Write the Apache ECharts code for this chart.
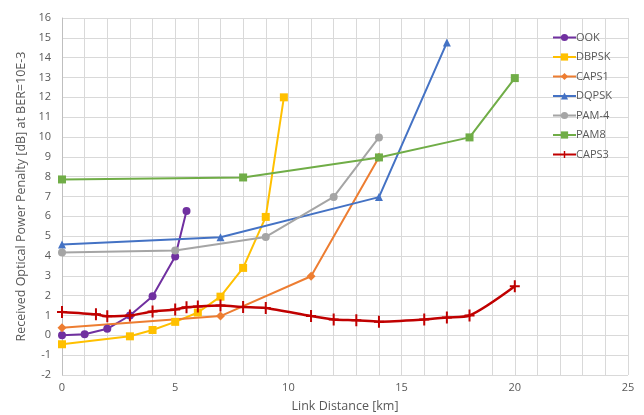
<!DOCTYPE html>
<html>
<head>
<meta charset="utf-8">
<script src="https://cdn.jsdelivr.net/npm/echarts@6/dist/echarts.min.js"></script>
<style>html,body{margin:0;padding:0;background:#fff}#c{width:644px;height:415px}</style>
</head>
<body>
<div id="c"></div>
<script>
const seriesNames = ['OOK','DBPSK','CAPS1','DQPSK','PAM-4','PAM8','CAPS3'];
const OOK   = [[0,0],[1,0.05],[2,0.33],[3,1.0],[4,1.97],[5,3.97],[5.5,6.27]];
const DBPSK = [[0,-0.45],[3,-0.05],[4,0.27],[5,0.68],[6,1.15],[7,1.95],[8,3.4],[9,5.97],[9.8,12]];
const CAPS1 = [[0,0.38],[7,0.97],[11,2.98],[14,8.98]];
const DQPSK = [[0,4.58],[7,4.95],[14,6.97],[17,14.76]];
const PAM4  = [[0,4.18],[5,4.28],[9,4.96],[12,6.98],[14,9.98]];
const PAM8  = [[0,7.86],[8,7.96],[14,8.97],[18,9.98],[20,12.97]];
const CAPS3 = [[0,1.18],[1.5,1.06],[2,0.96],[3,1.0],[4,1.2],[5,1.3],[5.5,1.42],[6,1.46],[7,1.5],[8,1.43],[9,1.38],[11,0.97],[12,0.8],[13,0.76],[14,0.69],[16,0.8],[17,0.9],[18,1.0],[20,2.47]];
const xTicks = {min:0, max:25, labelStep:5, gridStep:1};
const yTicks = {min:-2, max:16, interval:1};

const colors = ['#7030A0','#FFC000','#ED7D31','#4472C4','#A5A5A5','#70AD47','#C00000'];
const dataList = [OOK,DBPSK,CAPS1,DQPSK,PAM4,PAM8,CAPS3];
const plusPath = 'path://M-1,-6L1,-6L1,-1L5,-1L5,1L1,1L1,6L-1,6L-1,1L-5,1L-5,-1L-1,-1Z';
const symbols = ['circle','rect','diamond','triangle','circle','rect',plusPath];
const sizes = [8,8,9,8,8,8,[10,12]];
const font = 'Open Sans';

const chart = echarts.init(document.getElementById('c'));
chart.setOption({
  animation:false,
  color: colors,
  textStyle:{fontFamily:font},
  grid:{left:62,right:16,top:18,bottom:40,outerBoundsMode:'none',containLabel:false},
  legend:{
    orient:'vertical', left:547, top:27,
    itemWidth:23, itemHeight:9, itemGap:8.5,
    textStyle:{color:'#595959',fontSize:11,fontFamily:font,padding:[0,0,0,-5]},
    data: seriesNames
  },
  xAxis:{
    type:'value', min:xTicks.min, max:xTicks.max, interval:xTicks.gridStep,
    name:'Link Distance [km]', nameLocation:'middle', nameGap:25,
    nameTextStyle:{color:'#595959',fontSize:12.5},
    axisLine:{show:true,lineStyle:{color:'#d9d9d9'}},
    axisTick:{show:false},
    axisLabel:{color:'#595959',fontSize:11,margin:7,
      formatter:v => (Math.round(v) % xTicks.labelStep === 0 ? String(Math.round(v)) : '')},
    splitLine:{show:true,lineStyle:{color:'#d9d9d9',width:1}}
  },
  yAxis:{
    type:'value', min:yTicks.min, max:yTicks.max, interval:yTicks.interval,
    name:'Received Optical Power Penalty [dB] at BER=10E-3', nameLocation:'middle', nameGap:34,
    nameTextStyle:{color:'#595959',fontSize:12.5},
    axisLine:{show:true,lineStyle:{color:'#bfbfbf'}},
    axisTick:{show:false},
    axisLabel:{color:'#595959',fontSize:11,margin:11},
    splitLine:{show:true,lineStyle:{color:'#d9d9d9'}}
  },
  series: seriesNames.map((n,i)=>({
    name:n, type:'line', data:dataList[i],
    symbol:symbols[i], symbolSize:sizes[i], showSymbol:true,
    smooth: n==='CAPS3' ? 0.25 : false,
    lineStyle:{width: n==='CAPS3' ? 2.5 : 2, color:colors[i]},
    itemStyle:{color:colors[i]},
    z: n==='CAPS3' ? 3 : 2
  }))
});
</script>
</body>
</html>
